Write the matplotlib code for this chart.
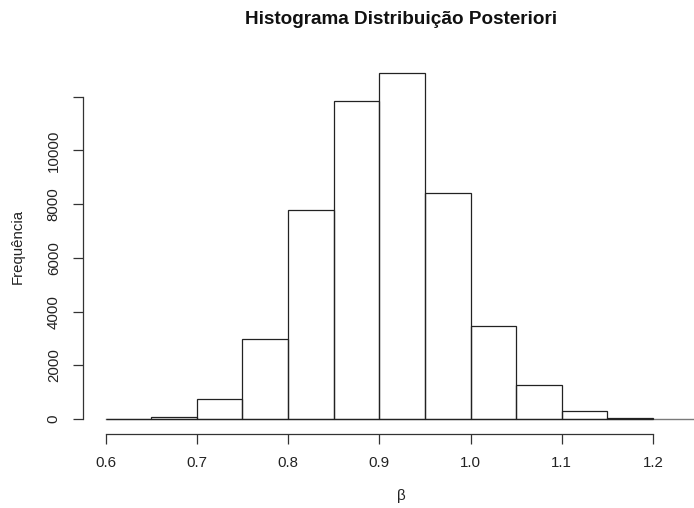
import numpy as np
import matplotlib
matplotlib.use('Agg')
import matplotlib.pyplot as plt

plt.rcParams['font.family'] = ['Liberation Sans', 'DejaVu Sans']

# histogram of the posterior draws (bin edges and counts)
bin_edges = [0.60, 0.65, 0.70, 0.75, 0.80, 0.85, 0.90, 0.95, 1.00, 1.05, 1.10, 1.15, 1.20]
counts = [4, 60, 745, 2980, 7780, 11840, 12900, 8410, 3460, 1265, 310, 30]
xticks = [0.6, 0.7, 0.8, 0.9, 1.0, 1.1, 1.2]
xtick_labels = ['0.6', '0.7', '0.8', '0.9', '1.0', '1.1', '1.2']
yticks = [0, 2000, 4000, 6000, 8000, 10000, 12000]
# R drops the top label because it would overlap
ytick_labels = ['0', '2000', '4000', '6000', '8000', '10000', '']

W, H = 694, 508
fig = plt.figure(figsize=(W / 100, H / 100), dpi=100)
# plot region in pixels: left 83, right past the image edge, top 58, bottom 434
ax = fig.add_axes([83 / W, (H - 434) / H, (W - 83) / W, (434 - 58) / H])
ax.set_xlim(0.5753, 1.2449)
ax.set_ylim(-559, 13445)

lefts = bin_edges[:-1]
widths = np.diff(bin_edges)
ax.axhline(0, xmin=(0.6 - 0.5753) / (1.2449 - 0.5753), xmax=1, color='#7a7a7a', lw=1.0, zorder=1)
ax.bar(lefts, counts, width=widths, align='edge', fill=False,
       edgecolor='#222222', linewidth=0.9, zorder=2)

for s in ['top', 'right']:
    ax.spines[s].set_visible(False)
ax.spines['left'].set_bounds(0, 12000)
ax.spines['bottom'].set_bounds(0.6, 1.2)
for s in ['left', 'bottom']:
    ax.spines[s].set_color('#333333')
    ax.spines[s].set_linewidth(0.9)

ax.set_xticks(xticks)
ax.set_xticklabels(xtick_labels)
ax.set_yticks(yticks)
ax.set_yticklabels(ytick_labels, rotation=90, va='center')
ax.tick_params(axis='both', direction='out', length=7, width=0.9,
               color='#333333', labelsize=10.8, labelcolor='#222222', pad=9)

fig.text(401 / W, 1 - 20 / H, 'Histograma Distribuição Posteriori',
         ha='center', va='center', fontsize=13.6, fontweight='bold', color='#111111')
fig.text(401 / W, 1 - 496 / H, 'β', ha='center', va='center', fontsize=11, color='#222222')
fig.text(18 / W, 1 - 246 / H, 'Frequência', ha='center', va='center',
         rotation=90, fontsize=10.8, color='#222222')

fig.savefig('out.png', dpi=100)
